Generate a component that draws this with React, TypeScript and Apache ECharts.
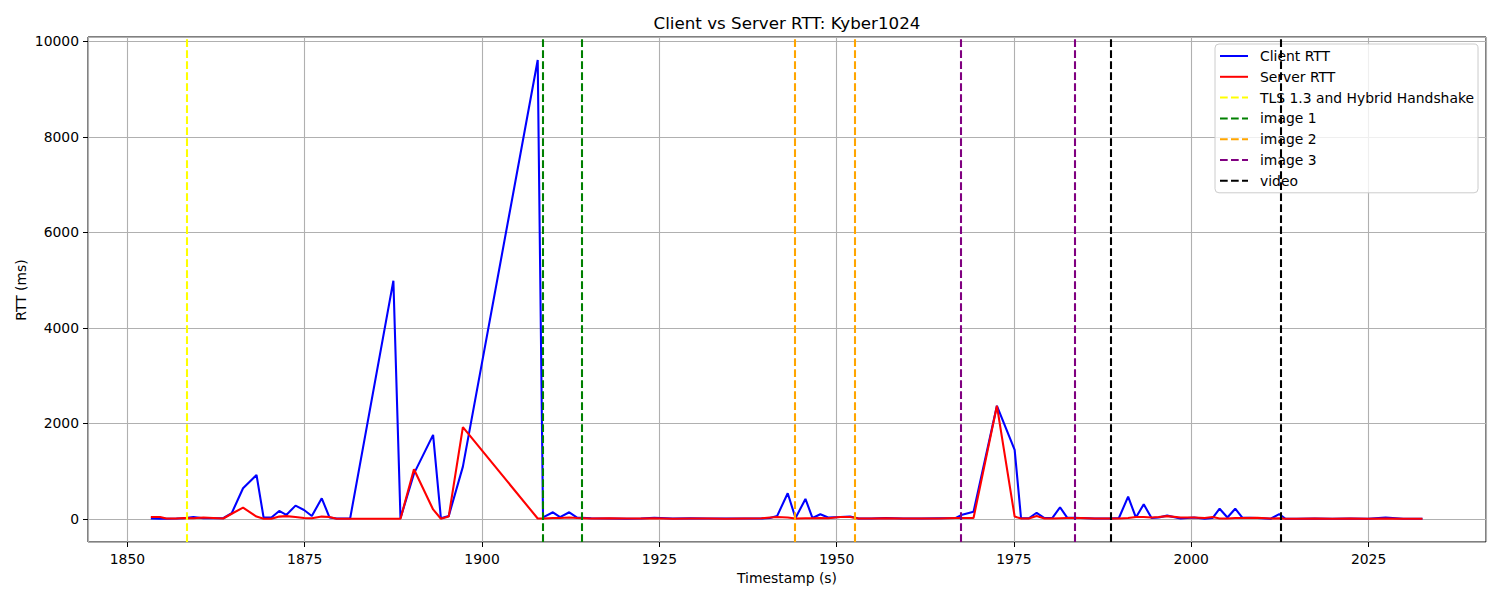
import React, { useEffect, useRef } from "react";
import * as echarts from "echarts";

const timestamps = [
  1853.3, 1854.6, 1855.5, 1856.9, 1857.9, 1859.3, 1860.7, 1862.1, 1863.5, 1864.7,
  1866.3, 1868.2, 1869.2, 1870.3, 1871.4, 1872.4, 1873.7, 1874.9, 1876.0, 1877.4,
  1878.5, 1879.5, 1881.4, 1887.5, 1888.5, 1890.4, 1893.1, 1894.2, 1895.3, 1897.3,
  1907.85, 1908.6, 1910.0, 1911.0, 1912.3, 1913.4, 1915.4, 1917.9, 1920.4, 1922.4,
  1924.3, 1926.9, 1929.4, 1931.9, 1934.4, 1936.9, 1939.4, 1940.6, 1941.6, 1943.1,
  1944.2, 1945.6, 1946.6, 1947.7, 1948.8, 1950.5, 1951.9, 1953.1, 1954.9, 1956.9,
  1959.4, 1961.9, 1964.4, 1966.8, 1967.7, 1969.3, 1972.6, 1975.1, 1976.0, 1977.1,
  1978.2, 1979.3, 1980.4, 1981.5, 1982.5, 1984.4, 1986.4, 1988.4, 1989.8, 1991.1,
  1992.2, 1993.3, 1994.4, 1995.4, 1996.6, 1998.5, 2000.4, 2001.9, 2003.0, 2004.0,
  2005.1, 2006.2, 2007.2, 2009.3, 2011.2, 2012.4, 2013.3, 2014.9, 2017.4, 2019.9,
  2022.4, 2024.9, 2027.4, 2029.9, 2032.6,
];

const clientRtt = [
  10, 5, 5, 10, 15, 40, 15, 15, 15, 120,
  643, 922, 30, 30, 168, 84, 280, 189, 63, 433,
  30, 10, 10, 4990, 15, 950, 1761, 15, 60, 1097,
  9610, 35, 140, 40, 140, 30, 15, 10, 5, 10,
  25, 10, 15, 10, 10, 10, 10, 20, 60, 538,
  20, 419, 20, 100, 30, 40, 50, 10, 10, 20,
  10, 10, 15, 20, 90, 150, 2370, 1447, 15, 15,
  130, 20, 20, 245, 30, 20, 10, 10, 20, 468,
  30, 308, 20, 30, 70, 10, 30, 5, 20, 215,
  30, 215, 30, 20, 5, 100, 5, 5, 10, 5,
  10, 5, 30, 5, 5,
];

const serverRtt = [
  40, 40, 10, 10, 20, 15, 30, 20, 10, 110,
  237, 50, 5, 5, 50, 60, 40, 20, 15, 50,
  40, 5, 5, 5, 5, 1042, 200, 5, 50, 1922,
  10, 10, 20, 20, 30, 20, 10, 15, 10, 10,
  15, 5, 10, 10, 5, 10, 15, 30, 40, 30,
  10, 15, 15, 20, 15, 40, 40, 10, 10, 15,
  10, 10, 10, 20, 20, 20, 2370, 50, 10, 10,
  60, 10, 10, 15, 20, 20, 10, 10, 10, 20,
  40, 40, 30, 40, 60, 30, 30, 20, 40, 10,
  10, 20, 20, 25, 10, 15, 5, 5, 10, 5,
  10, 5, 10, 5, 5,
];

const eventNames = ["TLS 1.3 and Hybrid Handshake", "image 1", "image 2", "image 3", "video"];
const tlsTimes = [1858.41];
const image1Times = [1908.54, 1914.09];
const image2Times = [1944.09, 1952.56];
const image3Times = [1967.51, 1983.59];
const videoTimes = [1988.71, 2012.55];
const eventTimes = [tlsTimes, image1Times, image2Times, image3Times, videoTimes];

const xTicks = [1850, 1875, 1900, 1925, 1950, 1975, 2000, 2025];
const yTicks = [0, 2000, 4000, 6000, 8000, 10000];

const eventColors = ["#ffff00", "#008000", "#ffa500", "#800080", "#000000"];
const FONT = "DejaVu Sans";

export default function App() {
  const ref = useRef<HTMLDivElement>(null);
  useEffect(() => {
    if (!ref.current) return;
    const chart = echarts.init(ref.current, null, { renderer: "svg" });
    const clientData = timestamps.map((t, i) => [t, clientRtt[i]]);
    const serverData = timestamps.map((t, i) => [t, serverRtt[i]]);
    const dash = [7.7, 3.3];
    const eventSeries = eventNames.map((name, k) => ({
      name,
      type: "line",
      data: [],
      symbol: "none",
      lineStyle: { color: eventColors[k], width: 2.08, type: dash },
      itemStyle: { color: eventColors[k] },
      markLine: {
        silent: true,
        symbol: "none",
        label: { show: false },
        animation: false,
        lineStyle: { color: eventColors[k], width: 2.08, type: dash },
        data: eventTimes[k].map((t) => ({ xAxis: t })),
      },
    }));
    const xStep = xTicks[1] - xTicks[0];
    const yStep = yTicks[1] - yTicks[0];
    chart.setOption({
      animation: false,
      grid: {
        left: 88,
        right: 14,
        top: 37,
        bottom: 58,
        show: true,
        borderColor: "#000",
        borderWidth: 1,
      },
      xAxis: {
        type: "value",
        min: 1844.44,
        max: 2041.56,
        minInterval: xStep,
        maxInterval: xStep,
        axisLine: { show: false, onZero: false },
        axisTick: { show: true, length: 5, lineStyle: { color: "#000", width: 1 } },
        axisLabel: {
          color: "#000",
          fontSize: 13.9,
          fontFamily: FONT,
          margin: 10,
          showMinLabel: false,
          showMaxLabel: false,
          formatter: (v: number) => (xTicks.includes(v) ? String(v) : ""),
        },
        splitLine: { show: true, lineStyle: { color: "#b0b0b0", width: 1.1 } },
      },
      yAxis: {
        type: "value",
        min: -482,
        max: 10092,
        minInterval: yStep,
        maxInterval: yStep,
        axisLine: { show: false, onZero: false },
        axisTick: { show: true, length: 5, lineStyle: { color: "#000", width: 1 } },
        axisLabel: {
          color: "#000",
          fontSize: 13.9,
          fontFamily: FONT,
          margin: 9,
          showMinLabel: false,
          showMaxLabel: false,
          formatter: (v: number) => (yTicks.includes(v) ? String(v) : ""),
        },
        splitLine: { show: true, lineStyle: { color: "#b0b0b0", width: 1.1 } },
      },
      legend: {
        orient: "vertical",
        left: 1215,
        top: 44,
        padding: [5, 4, 5, 4],
        itemWidth: 28,
        itemHeight: 14,
        itemGap: 6.8,
        itemStyle: { opacity: 0 },
        backgroundColor: "rgba(255,255,255,0.8)",
        borderColor: "#cccccc",
        borderWidth: 1,
        borderRadius: 4,
        textStyle: { color: "#000", fontSize: 13.9, fontFamily: FONT, padding: [0, 0, 0, 7] },
        data: ["Client RTT", "Server RTT", ...eventNames],
      },
      graphic: [
        {
          type: "text",
          x: 787,
          y: 23,
          style: {
            text: "Client vs Server RTT: Kyber1024",
            font: `16.7px "${FONT}"`,
            fill: "#000",
            textAlign: "center",
            textVerticalAlign: "middle",
          },
        },
        {
          type: "text",
          x: 787,
          y: 578,
          style: {
            text: "Timestamp (s)",
            font: `13.9px "${FONT}"`,
            fill: "#000",
            textAlign: "center",
            textVerticalAlign: "middle",
          },
        },
        {
          type: "text",
          x: 21,
          y: 290,
          rotation: Math.PI / 2,
          style: {
            text: "RTT (ms)",
            font: `13.9px "${FONT}"`,
            fill: "#000",
            textAlign: "center",
            textVerticalAlign: "middle",
          },
        },
      ],
      series: [
        {
          name: "Client RTT",
          type: "line",
          data: clientData,
          symbol: "none",
          showSymbol: false,
          lineStyle: { color: "#0000ff", width: 2.08 },
          itemStyle: { color: "#0000ff" },
        },
        {
          name: "Server RTT",
          type: "line",
          data: serverData,
          symbol: "none",
          showSymbol: false,
          lineStyle: { color: "#ff0000", width: 2.08 },
          itemStyle: { color: "#ff0000" },
        },
        ...eventSeries,
      ],
    });
    return () => chart.dispose();
  }, []);
  return <div ref={ref} style={{ width: 1500, height: 600, margin: -8 }} />;
}
